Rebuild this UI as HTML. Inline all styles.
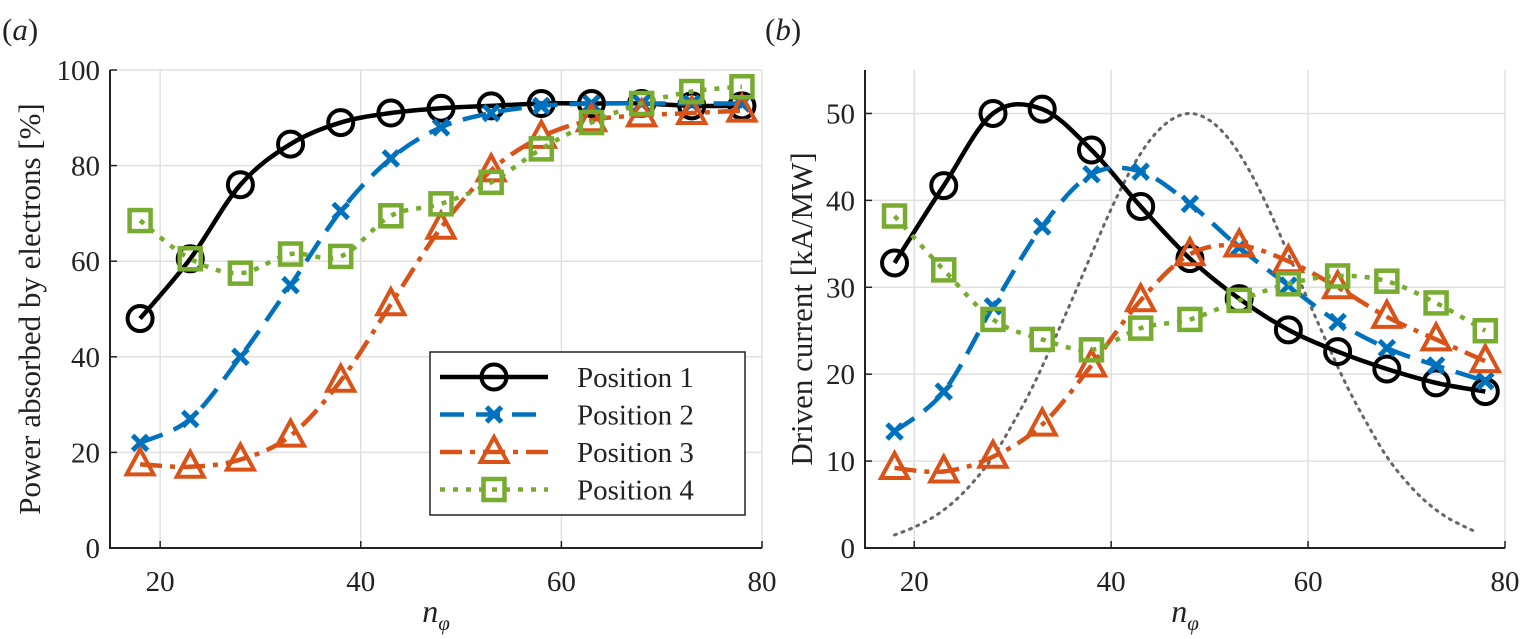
<!DOCTYPE html>
<html><head><meta charset="utf-8"><style>
body{margin:0;background:#fff;}
svg{display:block;font-family:"Liberation Serif",serif;}
</style></head><body>
<svg id="c" width="1537" height="639" xmlns="http://www.w3.org/2000/svg"></svg>
<script>
const xs=[18,23,28,33,38,43,48,53,58,63,68,73,78];
const powerP1=[48,60.5,76,84.5,89,91,92,92.5,93,93,93,92.5,92.5];
const powerP2=[22,27,40,55,70.5,81.5,88,91,92.5,93,93,93,93];
const powerP3=[17.5,17,18.5,23.5,35,51,67,79,86,89.5,90.5,91,91.5];
const powerP4=[68.5,60.5,57.5,61.5,61,69.5,72,76.5,83.5,89,93,95.5,96.5];
const curP1=[32.8,41.7,50,50.5,45.8,39.3,33.3,28.7,25.1,22.6,20.6,19,18];
const curP2=[13.4,18,27.8,37,43,43.3,39.6,34.6,30.2,26,23,21,19.2];
const curP3=[9.2,8.8,10.5,14.2,21,28.5,33.8,34.8,33,30,26.6,24,21.5];
const curP4=[38.2,32,26.3,24,22.8,25.3,26.3,28.5,30.4,31.3,30.7,28.2,25];
const refX=[18,20,22,24,26,28,30,32,34,36,38,40,42,44,46,48,50,52,54,56,58,60,62,64,66,68,70,72,74,76,77];
const refY=[1.5,2.4,3.6,5.3,7.6,10.5,14.3,18.5,23.4,28.5,33.8,39,43.5,47,49.2,50,49.2,47,43.5,39,33.8,28.5,23.4,18.5,14.3,10.5,7.6,5.3,3.6,2.4,1.9];
const xTicks=[20,40,60,80];
const yTicksA=[0,20,40,60,80,100];
const yTicksB=[0,10,20,30,40,50];

const svg=document.getElementById('c');
const NS='http://www.w3.org/2000/svg';
function mk(tag,attrs,parent){const e=document.createElementNS(NS,tag);for(const k in attrs)e.setAttribute(k,attrs[k]);(parent||svg).appendChild(e);return e;}
const styles=[
 {color:'#000000',dash:'',marker:'circle'},
 {color:'#0072BD',dash:'24 12',marker:'cross'},
 {color:'#D95319',dash:'22 8 5 8',marker:'tri'},
 {color:'#77AC30',dash:'5 8',marker:'square'}];
function spline(pts){let d='M'+pts[0][0]+','+pts[0][1];
 for(let i=0;i<pts.length-1;i++){const p0=pts[Math.max(0,i-1)],p1=pts[i],p2=pts[i+1],p3=pts[Math.min(pts.length-1,i+2)];
  d+=' C'+(p1[0]+(p2[0]-p0[0])/6)+','+(p1[1]+(p2[1]-p0[1])/6)+' '+(p2[0]-(p3[0]-p1[0])/6)+','+(p2[1]-(p3[1]-p1[1])/6)+' '+p2[0]+','+p2[1];}
 return d;}
function marker(g,type,x,y,col){
 if(type==='circle')return mk('circle',{cx:x,cy:y,r:12.5,fill:'none',stroke:col,'stroke-width':4},g);
 if(type==='cross')return mk('path',{d:`M${x-7.5},${y-7.5}L${x+7.5},${y+7.5}M${x-7.5},${y+7.5}L${x+7.5},${y-7.5}`,stroke:col,'stroke-width':5,fill:'none'},g);
 if(type==='tri')return mk('path',{d:`M${x},${y-15}L${x+13.5},${y+10}L${x-13.5},${y+10}Z`,fill:'none',stroke:col,'stroke-width':4},g);
 return mk('rect',{x:x-10.5,y:y-10.5,width:21,height:21,fill:'none',stroke:col,'stroke-width':4.5},g);}

function panel(name,x0,x1,ymax,yTicks,series,ylabel,tag,tagx,ylabx){
 const top=70,bot=548;
 const X=v=>x0+(v-15)*(x1-x0)/65, Y=v=>bot-v*(bot-top)/ymax;
 const g=mk('g',{});
 xTicks.forEach(t=>{mk('line',{x1:X(t),x2:X(t),y1:top,y2:bot,stroke:'#e0e0e0','stroke-width':1.5},g);
  mk('line',{x1:X(t),x2:X(t),y1:bot,y2:bot-7,stroke:'#222','stroke-width':1.5},g);
  const l=mk('text',{x:X(t),y:bot+43,'text-anchor':'middle','font-size':29,fill:'#222'},g);l.textContent=t;});
 yTicks.forEach(t=>{mk('line',{x1:x0,x2:x1,y1:Y(t),y2:Y(t),stroke:'#e0e0e0','stroke-width':1.5},g);
  mk('line',{x1:x0,x2:x0+7,y1:Y(t),y2:Y(t),stroke:'#222','stroke-width':1.5},g);
  const l=mk('text',{x:x0-10,y:Y(t)+10,'text-anchor':'end','font-size':29,fill:'#222'},g);l.textContent=t;});
 mk('path',{d:`M${x0},${top}L${x0},${bot}L${x1},${bot}`,fill:'none',stroke:'#222','stroke-width':2},g);
 series.forEach((s,i)=>{const st=s.style;const sg=mk('g',{},g);
  const pts=s.x.map((v,j)=>[X(v),Y(s.y[j])]);
  mk('path',{d:spline(pts),fill:'none',stroke:st.color,'stroke-width':st.w||4.5,'stroke-dasharray':st.dash,'stroke-linecap':st.marker?'butt':'round'},sg);
  if(st.marker)pts.forEach(p=>marker(sg,st.marker,p[0],p[1],st.color));});
 const xl=mk('text',{x:(x0+x1)/2,y:622,'text-anchor':'middle','font-size':32,'font-style':'italic',fill:'#222'},g);
 xl.innerHTML='n<tspan font-size="21" dy="8">φ</tspan>';
 const yl=mk('text',{x:0,y:0,transform:`translate(${ylabx},${(top+bot)/2}) rotate(-90)`,'text-anchor':'middle','font-size':31,fill:'#222'},g);
 yl.textContent=ylabel;
 const tl=mk('text',{x:tagx,y:40,'font-size':31,fill:'#222'},g);tl.innerHTML='(<tspan font-style="italic">'+tag+'</tspan>)';
 
 return {X,Y};}

panel('panel-a-power',110,762,100,yTicksA,[
 {name:'series-position-1',x:xs,y:powerP1,style:styles[0]},
 {name:'series-position-2',x:xs,y:powerP2,style:styles[1]},
 {name:'series-position-3',x:xs,y:powerP3,style:styles[2]},
 {name:'series-position-4',x:xs,y:powerP4,style:styles[3]}],
 'Power absorbed by electrons [%]','a',2,40);
panel('panel-b-current',865,1505,55,yTicksB,[
 {name:'reference-spectrum',x:refX,y:refY,style:{color:'#666',dash:'2 6',w:3,marker:null}},
 {name:'series-position-1',x:xs,y:curP1,style:styles[0]},
 {name:'series-position-2',x:xs,y:curP2,style:styles[1]},
 {name:'series-position-3',x:xs,y:curP3,style:styles[2]},
 {name:'series-position-4',x:xs,y:curP4,style:styles[3]}],
 'Driven current [kA/MW]','b',765,812);

// legend
const lg=mk('g',{});
mk('rect',{x:430,y:352,width:315,height:163,fill:'#fff',stroke:'#222','stroke-width':1.5},lg);
['Position 1','Position 2','Position 3','Position 4'].forEach((t,i)=>{
 const y=377+i*37.5;const st=styles[i];
 const e=mk('g',{},lg);
 mk('line',{x1:440,x2:548,y1:y,y2:y,stroke:st.color,'stroke-width':4.5,'stroke-dasharray':st.dash},e);
 marker(e,st.marker,494,y,st.color);
 const tx=mk('text',{x:577,y:y+10,'font-size':29,fill:'#222'},e);tx.textContent=t;});
</script>
</body></html>
